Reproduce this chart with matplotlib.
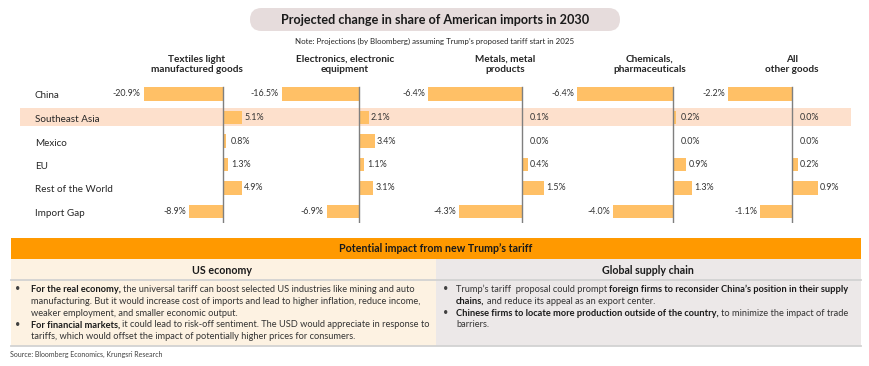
import matplotlib
matplotlib.use("Agg")
import matplotlib.pyplot as plt
from matplotlib.patches import Rectangle, FancyBboxPatch

plt.rcParams['font.family'] = ['Lato', 'DejaVu Sans']

# ---------------- data ----------------
categories = ["China", "Southeast Asia", "Mexico", "EU", "Rest of the World", "Import Gap"]
panel_titles = ["Textiles light\nmanufactured goods", "Electronics, electronic\nequipment",
                "Metals, metal\nproducts", "Chemicals,\npharmaceuticals", "All\nother goods"]
textiles = [-20.9, 5.1, 0.8, 1.3, 4.9, -8.9]
electronics = [-16.5, 2.1, 3.4, 1.1, 3.1, -6.9]
metals = [-6.4, 0.1, 0.0, 0.4, 1.5, -4.3]
chemicals = [-6.4, 0.2, 0.0, 0.9, 1.3, -4.0]
other_goods = [-2.2, 0.0, 0.0, 0.2, 0.9, -1.1]
series = [textiles, electronics, metals, chemicals, other_goods]

title = "Projected change in share of American imports in 2030"
note = "Note: Projections (by Bloomberg) assuming Trump\u2019s proposed tariff start in 2025"
impact_title = "Potential impact from new Trump\u2019s tariff"
left_head = "US economy"
right_head = "Global supply chain"
left_lines = [
    (True, [("For the real economy,", True), ("the universal tariff can boost selected US industries like mining and auto", False)]),
    (False, [("manufacturing. But it would increase cost of imports and lead to higher inflation, reduce income,", False)]),
    (False, [("weaker employment, and smaller economic output.", False)]),
    (True, [("For financial markets,", True), ("it could lead to risk-off sentiment. The USD would appreciate in response to", False)]),
    (False, [("tariffs, which would offset the impact of potentially higher prices for consumers.", False)]),
]
right_lines = [
    (True, [("Trump\u2019s tariff  proposal could prompt", False), ("foreign firms to reconsider China\u2019s position in their supply", True)]),
    (False, [("chains,", True), ("and reduce its appeal as an export center.", False)]),
    (True, [("Chinese firms to locate more production outside of the country,", True), ("to minimize the impact of trade", False)]),
    (False, [("barriers.", False)]),
]
source = "Source: Bloomberg Economics, Krungsri Research"

# ---------------- layout (pixels) ----------------
W, H = 870, 366
panel_zero_px = [223, 359, 522, 673, 792]
panel_px_per_unit = [3.8, 4.67, 14.7, 15.0, 29.0]
panel_title_x = [197, 345, 505, 650, 792]
row_top, row_step = 94, 23.5

bar_color = "#ffc066"
txt = "#262626"

fig = plt.figure(figsize=(W / 100, H / 100), dpi=100)
bg = fig.add_axes([0, 0, 1, 1], zorder=0)
bg.set_xlim(0, W)
bg.set_ylim(H, 0)
bg.axis("off")

# title pill
bg.add_patch(FancyBboxPatch((250, 8), 370, 23, boxstyle="round,pad=0,rounding_size=11.5",
                            fc="#e6dcdc", ec="none"))
bg.text(435, 20, title, ha="center", va="center", fontsize=9.1, fontweight="bold", color="#1a1a1a")
bg.text(435, 41, note, ha="center", va="center", fontsize=5.7, color=txt)

# highlight band for Southeast Asia
bg.add_patch(Rectangle((20, 108), 831, 18, fc="#fde0cc", ec="none"))

# row labels
for i, c in enumerate(categories):
    bg.text(35, row_top + i * row_step + 2, c, ha="left", va="center", fontsize=7.1, color=txt)

# panel titles
for x, t in zip(panel_title_x, panel_titles):
    bg.text(x, 64.5, t, ha="center", va="center", fontsize=7.2, fontweight="bold",
            color=txt, linespacing=1.2)

# bar panels
nrows = len(categories)
y0_px = row_top - row_step / 2
y1_px = row_top + (nrows - 0.5) * row_step
for vals, z, s in zip(series, panel_zero_px, panel_px_per_unit):
    ax = fig.add_axes([0, 1 - y1_px / H, 1, (y1_px - y0_px) / H], zorder=1)
    ax.patch.set_alpha(0)
    ax.set_xlim((0 - z) / s, (W - z) / s)
    ax.set_ylim(nrows - 0.5, -0.5)
    ax.axis("off")
    ypos = list(range(nrows))
    ax.barh(ypos, vals, height=0.56, color=bar_color, zorder=2)
    ax.plot([0, 0], [-0.3, nrows - 0.45], color="#7f7f7f", lw=1.0, zorder=3)
    pt_per_px = 72 / 100
    for y, v in zip(ypos, vals):
        lab = f"{v:.1f}%"
        if v < 0:
            ax.annotate(lab, (v, y), xytext=(-3 * pt_per_px, 0), textcoords="offset points",
                        ha="right", va="center", fontsize=6.4, color="#333333", zorder=4)
        else:
            off_px = max(8, v * s + 2)
            ax.annotate(lab, (0, y), xytext=(off_px * pt_per_px, 0), textcoords="offset points",
                        ha="left", va="center", fontsize=6.4, color="#333333", zorder=4)

# ---------------- bottom section ----------------
top = fig.add_axes([0, 0, 1, 1], zorder=2)
top.set_xlim(0, W)
top.set_ylim(H, 0)
top.axis("off")
top.patch.set_alpha(0)

top.add_patch(Rectangle((11, 238), 850, 21, fc="#ff9900", ec="none"))
top.text(436, 249, impact_title, ha="center", va="center", fontsize=7.7, fontweight="bold", color="#1a1a1a")
top.add_patch(Rectangle((11, 259), 425, 87, fc="#fdf2e2", ec="none"))
top.add_patch(Rectangle((436, 259), 425, 87, fc="#ece8e8", ec="none"))
for yy in (279.5, 345.5):
    top.plot([11, 861], [yy, yy], color="#d2d2d2", lw=1.3)
top.text(222, 270, left_head, ha="center", va="center", fontsize=7.7, fontweight="bold", color="#1a1a1a")
top.text(648, 270, right_head, ha="center", va="center", fontsize=7.7, fontweight="bold", color="#1a1a1a")


def draw_lines(lines, bullet_x, text_x, y_start, step, fs):
    for k, (has_bullet, segs) in enumerate(lines):
        y = y_start + k * step + 3
        if has_bullet:
            top.text(bullet_x, y - 3, "\u2022", ha="center", va="center", fontsize=fs, color="#404040")
        prev = None
        for seg, bold in segs:
            kw = dict(fontsize=fs, fontweight="bold" if bold else "normal",
                      color="#1a1a1a" if bold else "#333333", va="baseline", ha="left")
            if prev is None:
                prev = top.text(text_x, y, seg, **kw)
            else:
                prev = top.annotate(seg, xy=(1, y), xycoords=(prev, top.transData),
                                    xytext=(1.7, 0), textcoords="offset points", **kw)


draw_lines(left_lines, 18, 31, 289, 11.8, 6.65)
draw_lines(right_lines, 446, 456, 289, 11.8, 6.65)

top.text(10, 354, source, ha="left", va="center", fontsize=5.05, color="#404040")

fig.savefig("out.png", dpi=100)
